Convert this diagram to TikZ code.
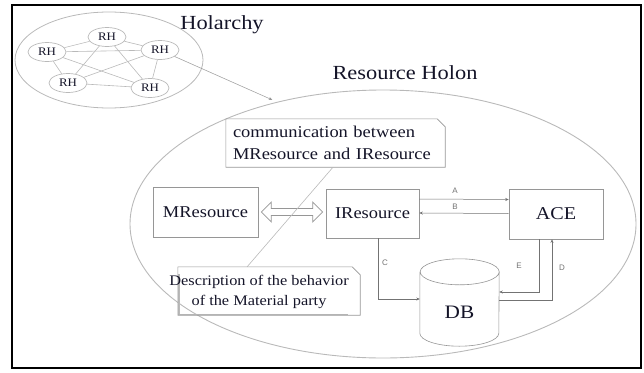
\documentclass[tikz,border=0pt]{standalone}
\usepackage{fontspec}
\setmainfont{Liberation Serif}[FakeStretch=1.12]
\newfontfamily\lblfont{Liberation Sans}
\usetikzlibrary{shapes.geometric,arrows.meta,calc}
\definecolor{lineg}{RGB}{115,115,115}
\definecolor{boxg}{RGB}{150,150,150}
\definecolor{ellg}{RGB}{185,185,185}
\definecolor{txt}{RGB}{20,20,40}
\begin{document}
\begin{tikzpicture}[x=1pt,y=-1pt,
  rhnode/.style={ellipse,draw=ellg,line width=0.7pt,inner sep=0pt,minimum width=38pt,minimum height=19pt,font=\fontsize{11.5}{11.5}\selectfont,text=txt},
  boxnode/.style={draw=boxg,line width=0.6pt,inner sep=0pt,text=txt},
  plainbox/.style={inner sep=0pt,text=txt},
  rhlink/.style={draw=ellg,line width=0.6pt},
  conn/.style={draw=lineg,line width=0.5pt,-{Stealth[length=3.5pt,width=3pt]}},
  lbl/.style={font=\lblfont\fontsize{8}{8}\selectfont,text=lineg,inner sep=0pt},
  callout/.style={draw=boxg,line width=0.6pt}]
\useasboundingbox (0,0) rectangle (644,372);
% frame
\draw[line width=1.5pt,black] (12,5) rectangle (641,368);

% holarchy
\node[ellipse,draw=ellg,line width=0.8pt,minimum width=188pt,minimum height=96pt] (hol) at (109,60) {};
\node[plainbox,font=\fontsize{20}{20}\selectfont] (holtxt) at (222,25) {Holarchy};
\node[rhnode] (rh1) at (107,37) {RH};
\node[rhnode] (rh2) at (47,52) {RH};
\node[rhnode] (rh3) at (160,50) {RH};
\node[rhnode] (rh4) at (68,83) {RH};
\node[rhnode] (rh5) at (150,88) {RH};
\draw[rhlink] (rh1) -- (rh2);
\draw[rhlink] (rh1) -- (rh3);
\draw[rhlink] (rh1) -- (rh4);
\draw[rhlink] (rh1) -- (rh5);
\draw[rhlink] (rh2) -- (rh3);
\draw[rhlink] (rh2) -- (rh4);
\draw[rhlink] (rh2) -- (rh5);
\draw[rhlink] (rh3) -- (rh4);
\draw[rhlink] (rh3) -- (rh5);
\draw[rhlink] (rh4) -- (rh5);

% resource holon
\node[ellipse,draw=ellg,line width=0.9pt,minimum width=506pt,minimum height=268pt] (holon) at (383,224) {};
\node[plainbox,font=\fontsize{20}{20}\selectfont] (holontxt) at (405,73) {Resource Holon};
\draw[conn,draw=boxg,shorten >=5pt] (rh3) -- (holon.131);

% boxes
\node[boxnode,minimum width=105pt,minimum height=50pt,font=\fontsize{16.5}{16.5}\selectfont] (mres) at (205.5,212) {MResource};
\node[boxnode,minimum width=93pt,minimum height=49pt,font=\fontsize{16.5}{16.5}\selectfont] (ires) at (372.5,213.5) {IResource};
\node[boxnode,minimum width=94pt,minimum height=50pt,font=\fontsize{18}{18}\selectfont] (ace) at (556,214) {ACE};

% DB cylinder
\node[plainbox,minimum width=79pt,minimum height=87pt] (db) at (459.5,302.5) {};
\draw[boxg,line width=0.6pt,fill=white] ([yshift=-13pt]db.north west) -- ([yshift=13pt]db.south west)
  arc[start angle=180,end angle=360,x radius=39.5pt,y radius=13pt]
  -- ([yshift=-13pt]db.north east)
  arc[start angle=0,end angle=360,x radius=39.5pt,y radius=13pt];
\node[plainbox,font=\fontsize{19}{19}\selectfont] (dbtxt) at ([yshift=-10pt]db.center) {DB};

% double arrow (hollow)
\coordinate (dl) at ([xshift=3pt]mres.east);
\coordinate (dr) at ([xshift=-3pt]ires.west |- mres.east);
\draw[boxg,line width=0.7pt,fill=white,line join=miter]
  (dl) -- ($(dl)+(10,-10)$) -- ($(dl)+(10,-3.5)$) -- ($(dr)+(-10,-3.5)$) -- ($(dr)+(-10,-10)$)
  -- (dr) -- ($(dr)+(-10,10)$) -- ($(dr)+(-10,3.5)$) -- ($(dl)+(10,3.5)$) -- ($(dl)+(10,10)$) -- cycle;

% arrows A B
\draw[conn] ([yshift=14.5pt]ires.east) -- ([yshift=14.5pt]ace.west);
\draw[conn] ([yshift=0.5pt]ace.west) -- ([yshift=0.5pt]ires.east);
\node[lbl] (la) at (455,191) {A};
\node[lbl] (lb) at (455,207) {B};

% C
\draw[conn] ([xshift=5.5pt]ires.south) |- (db.west |- 0,299);
\node[lbl] (lc) at (385,263) {C};
% E
\draw[conn] ([xshift=-17pt]ace.south) |- (db.east |- 0,292);
\node[lbl] (le) at (519,266) {E};
% D
\draw[conn] (db.east |- 0,300) -| ([xshift=-4pt]ace.south);
\node[lbl] (ld) at (562,268) {D};

% callout boxes
\node[plainbox,minimum width=219pt,minimum height=48pt,text width=205pt,align=left,font=\fontsize{16.5}{22}\selectfont] (comm) at (335.5,143)
  {communication between\\MResource and IResource};
\draw[callout] (comm.south west) -- (comm.north west) -- ([xshift=-8pt]comm.north east) -- ([yshift=-8pt]comm.north east) -- (comm.south east) -- cycle;

\node[plainbox,minimum width=182pt,minimum height=48pt] (desc) at (269,291) {};
\draw[ellg,line width=1.4pt] ([xshift=1pt,yshift=-7pt]desc.north west) -- ([xshift=1pt,yshift=1pt]desc.south west) -- ([xshift=170pt,yshift=1pt]desc.south west);
\draw[callout] (desc.south west) -- (desc.north west) -- ([xshift=-8pt]desc.north east) -- ([yshift=-8pt]desc.north east) -- (desc.south east) -- cycle;
\node[plainbox,align=center,font=\fontsize{14.6}{20}\selectfont] (desctxt) at (259,292)
  {Description of the behavior\\of the Material party};

\draw[callout,draw=ellg] ([xshift=-2.5pt]comm.south) -- ($(desc.north west)!0.38!(desc.north east)$);
\end{tikzpicture}
\end{document}
